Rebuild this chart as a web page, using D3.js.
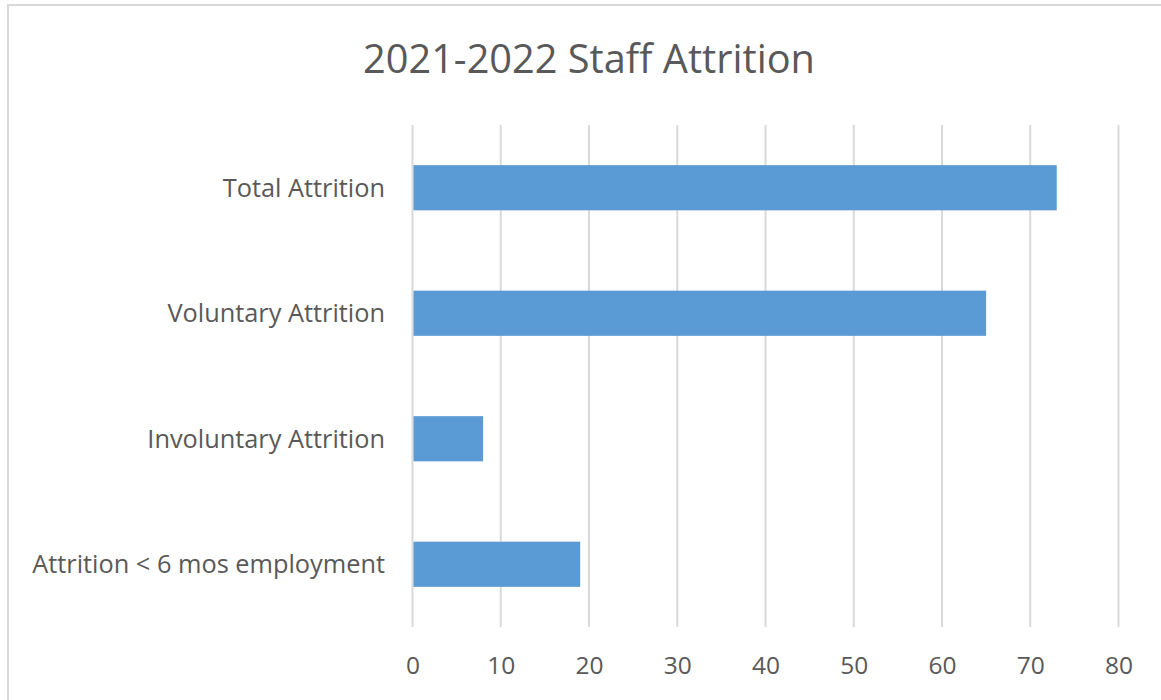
<!DOCTYPE html>
<html>
<head>
<meta charset="utf-8">
<script src="https://cdn.jsdelivr.net/npm/d3@7"></script>
<style>
  html, body { margin: 0; padding: 0; background: #fff; }
  svg { display: block; }
  text { font-family: "Open Sans", "Noto Sans", sans-serif; fill: #595959; }
</style>
</head>
<body>
<svg id="chart" width="1161" height="700"></svg>
<script>
const title = "2021-2022 Staff Attrition";
const categories = ["Total Attrition", "Voluntary Attrition", "Involuntary Attrition", "Attrition < 6 mos employment"];
const values = [73, 65, 8, 19];
const xTicks = [0, 10, 20, 30, 40, 50, 60, 70, 80];

const W = 1161, H = 700;
const m = { left: 412.5, right: 1118.5, top: 125, bottom: 627 };

const svg = d3.select("#chart");

// outer border
svg.append("rect")
  .attr("x", 8).attr("y", 5)
  .attr("width", W + 10).attr("height", H + 10)
  .attr("fill", "#fff").attr("stroke", "#d9d9d9").attr("stroke-width", 2);

const x = d3.scaleLinear().domain([0, 80]).range([m.left, m.right]);
const y = d3.scaleBand().domain(categories).range([m.top, m.bottom]).paddingInner(0.64).paddingOuter(0.32);

function fit(sel, target) {
  const w = sel.node().getComputedTextLength();
  const fs = parseFloat(sel.attr("font-size"));
  sel.attr("font-size", fs * target / w);
}

// gridlines
svg.append("g")
  .selectAll("line").data(xTicks).join("line")
  .attr("x1", d => x(d)).attr("x2", d => x(d))
  .attr("y1", m.top).attr("y2", m.bottom)
  .attr("stroke", "#d9d9d9").attr("stroke-width", 2);

// x axis tick labels
const xAxis = d3.axisBottom(x).tickValues(xTicks).tickSize(0).tickPadding(0);
const gx = svg.append("g").attr("transform", `translate(0, 674)`).call(xAxis);
gx.select(".domain").remove();
gx.selectAll("text")
  .attr("dy", 0).attr("y", 0)
  .attr("font-size", 24.5)
  .style("font-family", '"Open Sans", sans-serif')
  .attr("fill", "#595959");

// y axis labels
const yAxis = d3.axisLeft(y).tickSize(0).tickPadding(0);
const gy = svg.append("g").attr("transform", `translate(385, 0)`).call(yAxis);
gy.select(".domain").remove();
gy.selectAll("text")
  .attr("x", 0).attr("dy", "0.35em")
  .attr("font-size", 24)
  .style("font-family", '"Open Sans", sans-serif')
  .attr("fill", "#595959");
const targetLong = 353;
const longNode = gy.selectAll("text").filter(d => d === categories[3]);
const w0 = longNode.node().getComputedTextLength();
const fsY = 24 * targetLong / w0;
gy.selectAll("text").attr("font-size", fsY);

// bars
svg.append("g")
  .selectAll("rect").data(values).join("rect")
  .attr("x", x(0) + 1)
  .attr("y", (d, i) => y(categories[i]))
  .attr("width", d => x(d) - x(0) - 1)
  .attr("height", y.bandwidth())
  .attr("fill", "#5b9bd5");

// title
const t = svg.append("text")
  .attr("x", 589).attr("y", 73)
  .attr("text-anchor", "middle")
  .attr("font-size", 36)
  .text(title);
fit(t, 452);
</script>
</body>
</html>
